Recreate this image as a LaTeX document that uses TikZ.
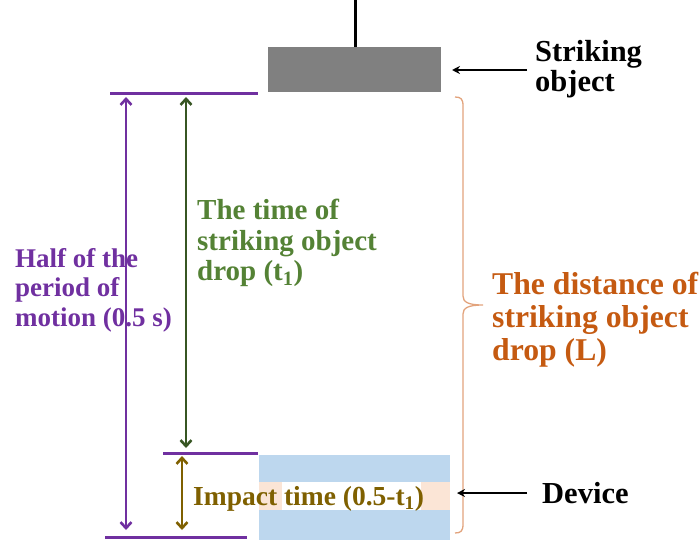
\documentclass[tikz,border=0pt]{standalone}
\usepackage{fontspec}
\setmainfont{Liberation Serif}
\usetikzlibrary{arrows.meta}
\definecolor{purp}{HTML}{7030A0}
\definecolor{grtext}{HTML}{548235}
\definecolor{grarrow}{HTML}{375623}
\definecolor{orng}{HTML}{C55A11}
\definecolor{brwn}{HTML}{7F6000}
\definecolor{lblue}{HTML}{BDD7EE}
\definecolor{peach}{HTML}{FBE5D6}
\definecolor{bracec}{HTML}{E2A37C}
\definecolor{objgray}{HTML}{808080}
\tikzset{
  lbl/.style={inner sep=0pt, align=left, font=\bfseries},
  dimarrow/.style={line width=2.6pt, {Straight Barb[length=6pt,width=11pt]}-{Straight Barb[length=6pt,width=11pt]}},
  ptr/.style={line width=2.2pt, -{Stealth[length=8pt,width=8pt]}},
  hline/.style={line width=3pt, purp}
}
\begin{document}
\begin{tikzpicture}[x=1pt,y=-1pt]
\useasboundingbox (0,0) rectangle (700,541);
% striking object
\node[fill=objgray, minimum width=173pt, minimum height=45pt, inner sep=0pt, anchor=north west] (obj) at (268,47) {};
\coordinate (rodtop) at (355,0);
\draw[line width=3pt] (rodtop) -- (obj.north -| rodtop);
% device
\node[fill=lblue, minimum width=191pt, minimum height=85pt, inner sep=0pt, anchor=north west] (dev) at (259,455) {};
\fill[peach] (259,482) rectangle (450,510);
\fill[white] (282,482) rectangle (421,510);
% purple lines
\coordinate (t1) at (110,93); \coordinate (t2) at (258,93);
\coordinate (m1) at (163,453); \coordinate (m2) at (258,453);
\coordinate (b1) at (105,537); \coordinate (b2) at (247,537);
\draw[hline] (t1) -- (t2);
\draw[hline] (m1) -- (m2);
\draw[hline] (b1) -- (b2);
% arrows
\coordinate (pa) at (126,97); \coordinate (pb) at (126,530);
\draw[dimarrow, purp] (pa) -- (pb);
\coordinate (ga) at (186,97); \coordinate (gb) at (186,448);
\draw[dimarrow, grarrow] (ga) -- (gb);
\coordinate (ba) at (182,456); \coordinate (bb) at (182,530);
\draw[dimarrow, brwn] (ba) -- (bb);
% brace
\draw[bracec, line width=1.3pt] (455,97) .. controls (461,97) and (463,99) .. (463,106)
  -- (463,296) .. controls (463,302) and (468,305) .. (483,305)
  .. controls (468,305) and (463,308) .. (463,314)
  -- (463,524) .. controls (463,531) and (461,533) .. (455,533);
% texts
\node[lbl, font=\bfseries\fontsize{30.5}{30}\selectfont, anchor=north west] (strk) at (535,40) {Striking\\object};
\coordinate (sa) at (527,70); \coordinate (sb) at (452,70);
\draw[ptr] (sa) -- (sb);
\node[lbl, font=\bfseries\fontsize{30.5}{30}\selectfont, anchor=west] (devl) at (542,493) {Device};
\coordinate (da) at (527,493); \coordinate (db) at (457,493);
\draw[ptr] (da) -- (db);
\node[lbl, grtext, font=\bfseries\fontsize{29}{30.5}\selectfont, anchor=north west] (gtxt) at (197,199) {The time of\\striking object\\drop (t\textsubscript{1})};
\node[lbl, purp, font=\bfseries\fontsize{27}{29.5}\selectfont, anchor=north west] (ptxt) at (15,248) {Half of the\\period of\\motion (0.5 s)};
\node[lbl, orng, font=\bfseries\fontsize{31.7}{33}\selectfont, anchor=north west] (otxt) at (492,272) {The distance of\\striking object\\drop (L)};
\node[lbl, brwn, font=\bfseries\fontsize{27.5}{27}\selectfont, anchor=base west] (itxt) at (193,505) {Impact time (0.5-t\textsubscript{1})};
\end{tikzpicture}
\end{document}
